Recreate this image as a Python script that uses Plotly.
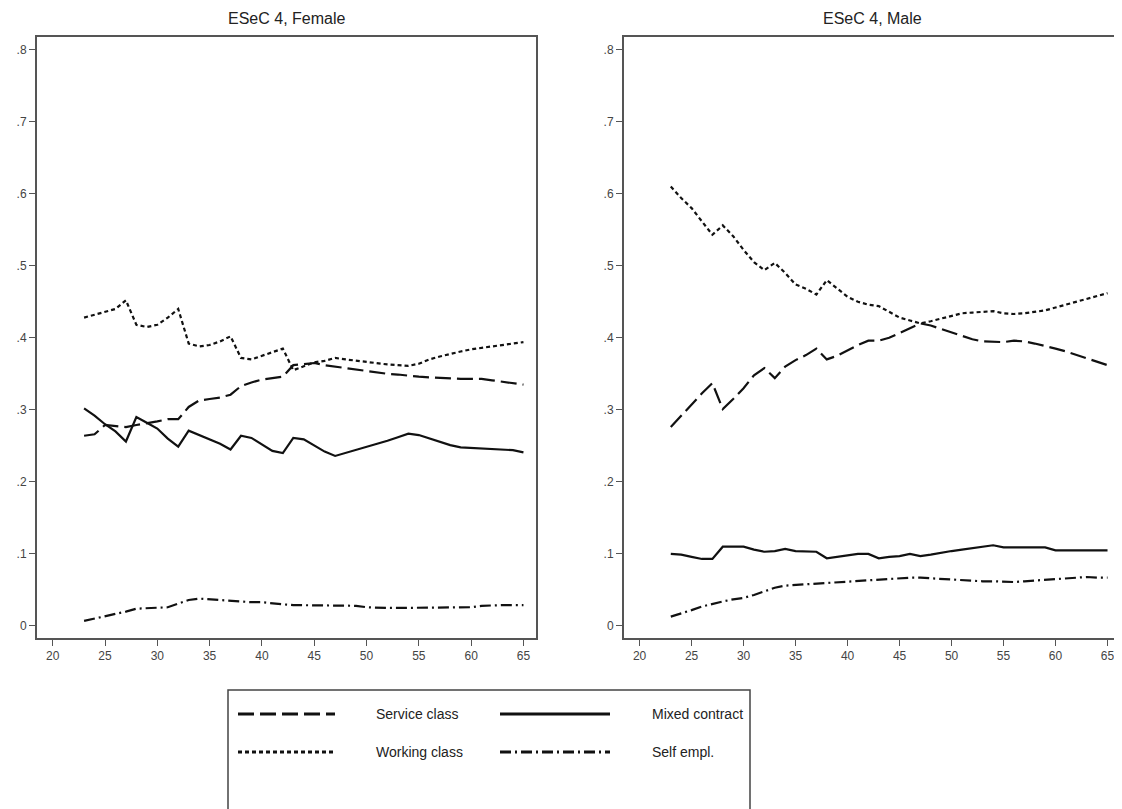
import plotly.graph_objects as go

ages = list(range(23, 66))

# Female panel
f_service = [.264, .266, .279, .277, .276, .279, .281, .284, .287, .287, .304, .313, .315, .317, .321,
             .333, .338, .342, .344, .346, .362, .364, .365, .362, .360, .357, .355, .353, .352, .350,
             .349, .347, .346, .345, .344, .344, .343, .343, .343, .341, .339, .337, .335]
f_working = [.428, .432, .435, .440, .452, .418, .415, .418, .428, .440, .392, .388, .390, .395, .402,
             .372, .370, .375, .380, .385, .355, .360, .366, .368, .372, .370, .368, .366, .365, .363,
             .362, .361, .364, .370, .374, .378, .381, .384, .386, .388, .390, .392, .394]
f_mixed = [.302, .292, .280, .270, .256, .290, .282, .274, .260, .249, .271, .265, .260, .253, .245,
           .264, .261, .252, .243, .240, .261, .259, .250, .242, .236, .240, .244, .248, .252, .257,
           .262, .267, .265, .260, .255, .251, .248, .247, .246, .245, .245, .244, .241]
f_self = [.007, .010, .013, .016, .020, .024, .025, .025, .026, .031, .036, .038, .037, .036, .034,
          .033, .033, .033, .031, .030, .029, .029, .029, .029, .029, .029, .028, .026, .025, .025,
          .025, .025, .025, .025, .025, .025, .025, .026, .028, .029, .029, .029, .029]

# Male panel
m_service = [.276, .292, .307, .323, .337, .301, .315, .330, .348, .358, .344, .360, .369, .376, .385,
             .370, .375, .383, .390, .396, .396, .400, .407, .413, .420, .417, .412, .407, .402, .398,
             .395, .394, .394, .396, .395, .392, .389, .385, .381, .376, .372, .367, .362]
m_working = [.610, .594, .580, .561, .543, .556, .541, .522, .505, .494, .504, .490, .474, .468, .460,
             .480, .468, .457, .450, .446, .444, .436, .428, .424, .420, .423, .427, .431, .434, .435,
             .436, .437, .434, .433, .434, .436, .438, .442, .446, .450, .454, .459, .462]
m_mixed = [.100, .099, .096, .093, .093, .110, .110, .110, .106, .103, .104, .107, .104, .103, .103,
           .094, .096, .098, .100, .100, .094, .096, .097, .100, .097, .099, .102, .104, .106, .108,
           .110, .112, .109, .109, .109, .109, .109, .105, .105, .105, .105, .105, .105]
m_self = [.013, .017, .022, .027, .031, .034, .037, .039, .043, .048, .053, .056, .057, .058, .059,
          .060, .061, .062, .063, .064, .065, .066, .067, .067, .067, .066, .065, .064, .063, .062,
          .062, .062, .061, .061, .062, .063, .064, .065, .067, .068, .068, .067, .067]

panel_titles = ["ESeC 4, Female", "ESeC 4, Male"]
series_names = ["Service class", "Mixed contract", "Working class", "Self empl."]
x_ticks = [20, 25, 30, 35, 40, 45, 50, 55, 60, 65]
y_ticks = [0, .1, .2, .3, .4, .5, .6, .7, .8]
y_ticklabels = ["0", ".1", ".2", ".3", ".4", ".5", ".6", ".7", ".8"]

dash_styles = {
    "Service class": "16px,6px",
    "Mixed contract": "solid",
    "Working class": "4px,3px",
    "Self empl.": "11px,4px,2px,4px",
}

FONT = "Liberation Sans, Arial, sans-serif"
AX = "#555555"

W, H = 1122, 809
OFF = 8  # page body margin


def px(x):
    return (x - OFF) / W


def py(y):
    return 1 - (y - OFF) / H


fig = go.Figure()
panels = [
    ("x", "y", {"Service class": f_service, "Mixed contract": f_mixed,
                "Working class": f_working, "Self empl.": f_self}),
    ("x2", "y2", {"Service class": m_service, "Mixed contract": m_mixed,
                  "Working class": m_working, "Self empl.": m_self}),
]
for xa, ya, data in panels:
    for name in series_names:
        fig.add_trace(go.Scatter(
            x=ages, y=data[name], mode="lines", name=name, xaxis=xa, yaxis=ya,
            showlegend=False,
            line=dict(color="#111111", width=2.2, dash=dash_styles[name]),
        ))

y_dom = [py(638), py(37)]
tickfont = dict(family=FONT, size=12, color="#444")
common_x = dict(range=[18.5, 66.2], tickvals=x_ticks, ticks="outside", ticklen=6, tickwidth=1,
                tickcolor=AX, showline=True, linecolor=AX, linewidth=2, mirror=True,
                showgrid=False, zeroline=False, tickfont=tickfont)
common_y = dict(range=[-0.0167, 0.8175], tickvals=y_ticks, ticktext=y_ticklabels, ticks="outside",
                ticklen=6, tickwidth=1, tickcolor=AX, showline=True, linecolor=AX, linewidth=2,
                mirror=True, showgrid=False, zeroline=False, tickfont=tickfont)

left_dom = [px(37), px(536)]
right_dom = [px(624), px(1120)]

fig.update_layout(
    width=W, height=H,
    margin=dict(l=0, r=0, t=0, b=0),
    paper_bgcolor="white", plot_bgcolor="white",
    xaxis=dict(domain=left_dom, anchor="y", **common_x),
    yaxis=dict(domain=y_dom, anchor="x", **common_y),
    xaxis2=dict(domain=right_dom, anchor="y2", **common_x),
    yaxis2=dict(domain=y_dom, anchor="x2", **common_y),
    showlegend=False,
)

# Panel titles
for t, dom in zip(panel_titles, [left_dom, right_dom]):
    fig.add_annotation(text=t, x=(dom[0] + dom[1]) / 2, y=py(18), xref="paper", yref="paper",
                       xanchor="center", yanchor="middle", showarrow=False,
                       font=dict(family=FONT, size=16, color="#222"))

# Legend box (drawn manually to match long line samples)
fig.add_shape(type="rect", xref="paper", yref="paper", x0=px(228), x1=px(750),
              y0=-0.05, y1=py(690), line=dict(color="#444", width=1.5), fillcolor="white")
legend_pos = {
    "Service class": (238, 335, 374, 714),
    "Mixed contract": (500, 610, 650, 714),
    "Working class": (238, 335, 374, 752),
    "Self empl.": (500, 610, 650, 752),
}
for name in series_names:
    x0, x1, xt, yy = legend_pos[name]
    fig.add_shape(type="line", xref="paper", yref="paper", x0=px(x0), x1=px(x1),
                  y0=py(yy), y1=py(yy),
                  line=dict(color="#111", width=3, dash=dash_styles[name]))
    fig.add_annotation(text=name, x=px(xt), y=py(yy), xref="paper", yref="paper",
                       xanchor="left", yanchor="middle", showarrow=False,
                       font=dict(family=FONT, size=14, color="#222"))

fig.write_html("out.html")
